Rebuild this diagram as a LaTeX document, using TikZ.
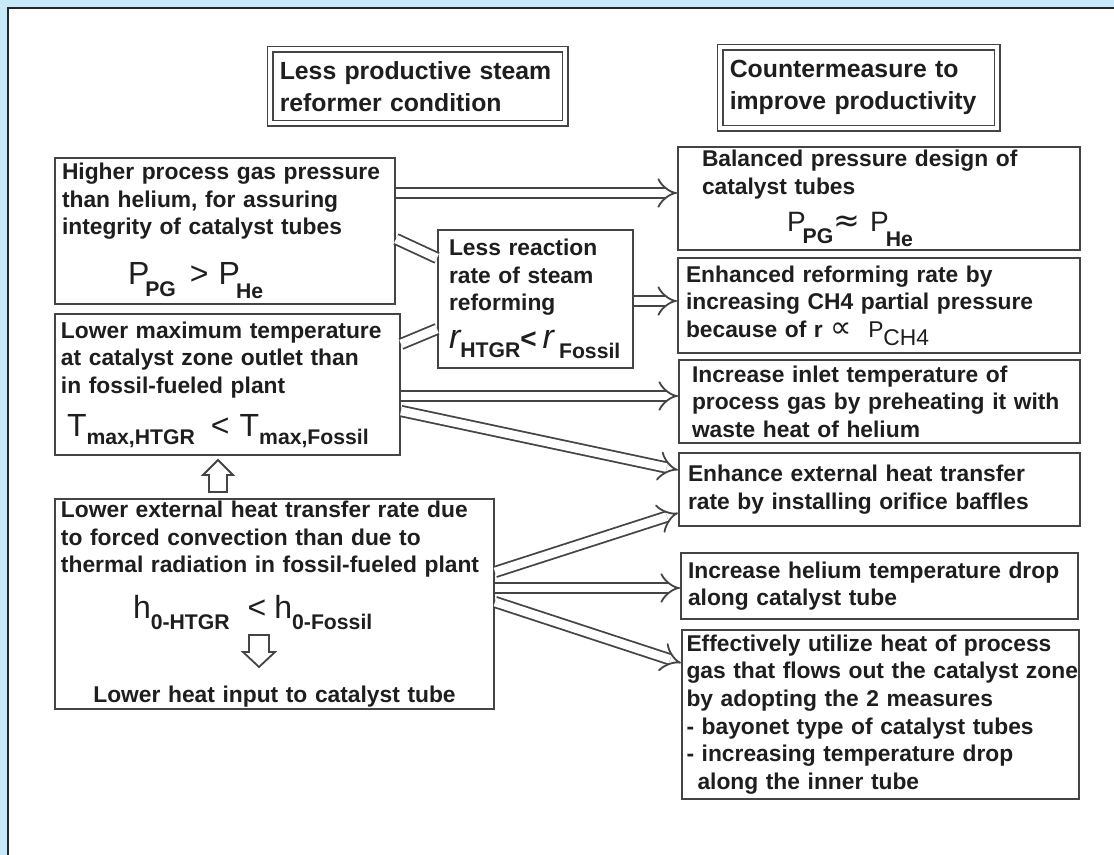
\documentclass[tikz,border=0pt]{standalone}
\usepackage{fontspec}
\setmainfont{Liberation Sans}
\newfontfamily\symfont{DejaVu Sans}
\usetikzlibrary{arrows.meta, calc}

\definecolor{skyback}{HTML}{C8EAF8}
\definecolor{boxline}{HTML}{444444}
\definecolor{inkgray}{HTML}{1E1E1E}

% big letter and lowered index of the formulas
\newcommand{\fbig}[2][16]{{\fontsize{#1}{#1}\selectfont\mdseries #2}}
\newcommand{\fsub}[2][5pt]{\raisebox{-#1}{\fontsize{10.6}{10.6}\selectfont #2}}

\begin{document}
\begin{tikzpicture}[x=0.5pt, y=-0.5pt,
        every node/.style={text=inkgray},
        box/.style={draw=boxline, line width=1pt, anchor=north west, align=left,
            inner ysep=0pt, font=\bfseries\fontsize{11.4}{13.8}\selectfont},
        headbox/.style={draw=boxline, line width=0.8pt, double=white, double distance=2pt,
            anchor=north west, align=left, inner xsep=4.7pt, inner ysep=0pt,
            font=\bfseries\fontsize{12.4}{16}\selectfont},
        dblline/.style={draw=boxline, line width=0.9pt, double=white, double distance=4.3pt},
        dblarrow/.style={dblline, -{Implies[scale=2]}},
        whitearrow/.style={draw=boxline, line width=0.9pt, fill=white, line join=miter}
    ]
        \useasboundingbox (0,0) rectangle (1114,855);
        \fill[skyback] (0,0) rectangle (1114,855);
        \fill[white] (8,8) rectangle (1114,855);
        \draw[line width=1.2pt, black!85] (1114,8) -- (8,8) -- (8,855);

        % Titles
        \node[headbox, text width=138pt, minimum height=36.9pt] (hdL) at (269.6,48.6)
            {Less productive steam\\reformer condition};
        \node[headbox, text width=129pt, minimum height=40.4pt] (hdR) at (719.6,46.6)
            {Countermeasure to\\improve productivity};

        % Left column
        \node[box, text width=163pt, inner xsep=3.5pt, minimum height=73pt] (pg) at (54,157)
            {Higher process gas pressure\\than helium, for assuring\\integrity of catalyst tubes\\[11pt]
             \hspace*{33pt}\fbig{P}\kern-2pt\fsub[6pt]{PG}\hspace{7pt}\fbig{>}\hspace{5pt}\fbig{P}\kern-2pt\fsub[7pt]{He}};
        \node[box, text width=166.5pt, inner xsep=3pt, minimum height=70.5pt] (tmax) at (54,313)
            {Lower maximum temperature\\at catalyst zone outlet than\\in fossil-fueled plant\\[7.7pt]
             \hspace*{3pt}\fbig{T}\fsub[4pt]{max,HTGR}\hspace{8pt}\fbig{<}\hspace{5pt}\fbig{T}\fsub[4pt]{max,Fossil}};
        \node[box, text width=213.5pt, inner xsep=3pt, minimum height=105pt] (h0) at (54,498)
            {Lower external heat transfer rate due\\to forced convection than due to\\thermal radiation in fossil-fueled plant\\[7.7pt]
             \hspace*{36pt}\fbig{h}\fsub[5.5pt]{0-HTGR}\hspace{9pt}\fbig{<}\hspace{4pt}\fbig{h}\fsub[5.5pt]{0-Fossil}\\[27pt]
             \makebox[\linewidth][c]{Lower heat input to catalyst tube}};
        \node[box, text width=86.5pt, inner xsep=5.5pt, minimum height=69pt] (rr) at (437,229)
            {Less reaction\\rate of steam\\reforming\\[5.2pt]
             \fbig[17]{\itshape r}\fsub[4.5pt]{HTGR}\fbig[14]{\bfseries <}\hspace{3pt}\fbig[17]{\itshape r}\hspace{2.5pt}\fsub[5pt]{Fossil}};

        % Right column
        \node[box, text width=177pt, inner xsep=12pt, minimum height=51.5pt] (bal) at (677,146)
            {Balanced pressure design of\\catalyst tubes\\[4.7pt]
             \hspace*{42.5pt}\fbig[14]{P}\kern-1.5pt\fsub[6pt]{PG}{\symfont\mdseries\fontsize{16}{16}\selectfont ≈}\hspace{5pt}\fbig[14]{P}\kern-1.5pt\fsub[7.5pt]{He}};
        \node[box, text width=193pt, inner xsep=4pt, minimum height=47.5pt] (enh) at (677,257)
            {Enhanced reforming rate by\\increasing CH4 partial pressure\\
             because of r\hspace{4pt}{\symfont\mdseries\fontsize{15}{15}\selectfont ∝}\hspace{8pt}{\mdseries P}\raisebox{-4pt}{\mdseries CH4}};
        \node[box, text width=187.5pt, inner xsep=6.5pt, minimum height=41.5pt] (inl) at (678,359)
            {Increase inlet temperature of\\process gas by preheating it with\\waste heat of helium};
        \node[box, text width=191.5pt, inner xsep=4.5pt, minimum height=36.5pt] (orf) at (678,452)
            {Enhance external heat transfer\\rate by installing orifice baffles};
        \node[box, text width=191.5pt, inner xsep=3.5pt, minimum height=33pt] (hed) at (680,552)
            {Increase helium temperature drop\\along catalyst tube};
        \node[box, text width=194pt, inner xsep=2.25pt, minimum height=84.5pt] (eff) at (681,629)
            {Effectively utilize heat of process\\\mbox{gas that flows out the catalyst zone}\\by adopting the 2 measures\\
             - bayonet type of catalyst tubes\\- increasing temperature drop\\\hspace*{5.5pt}along the inner tube};

        % Ends of the connectors
        \coordinate (s1) at ([yshift=-18pt]pg.north east);
        \coordinate (s2) at ([yshift=-41pt]pg.north east);
        \coordinate (s3) at ([yshift=-15.5pt]tmax.north east);
        \coordinate (s4) at ([yshift=-41.5pt]tmax.north east);
        \coordinate (s5) at ([yshift=-49pt]tmax.north east);
        \coordinate (s6) at ([yshift=-36pt]rr.north east);
        \coordinate (s7) at ([yshift=-37pt]h0.north east);
        \coordinate (s8) at ([yshift=-45pt]h0.north east);
        \coordinate (s9) at ([yshift=-52pt]h0.north east);
        \coordinate (t2) at ([yshift=-14.5pt]rr.north west);
        \coordinate (t3) at ([yshift=-50pt]rr.north west);
        \coordinate (t5) at ([yshift=-9pt]orf.north west);
        \coordinate (t7) at ([yshift=-30.5pt]orf.north west);
        \coordinate (t9) at ([yshift=-17pt]eff.north west);
        \coordinate (u1) at ([xshift=82pt]h0.north west);
        \coordinate (d1) at ($(h0.south west)+(205,-75)$);

        % Connectors
        \draw[dblarrow] (s1) -- (s1 -| bal.west);
        \draw[dblline] (s2) -- (t2);
        \draw[dblline] (s3) -- (t3);
        \draw[dblarrow] (s6) -- (s6 -| enh.west);
        \draw[dblarrow] (s4) -- (s4 -| inl.west);
        \draw[dblarrow] (s5) -- (t5);
        \draw[dblarrow] (s7) -- (t7);
        \draw[dblarrow] (s8) -- (s8 -| hed.west);
        \draw[dblarrow] (s9) -- (t9);

        % White block arrows
        \draw[whitearrow] ($(u1)+(-9,-6)$) -- ++(0,-17) -- ++(-6,0) -- ++(15,-15)
            -- ++(15,15) -- ++(-6,0) -- ++(0,17) -- cycle;
        \draw[whitearrow] ($(d1)+(-10,0)$) -- ++(0,17) -- ++(-6,0) -- ++(16,15)
            -- ++(16,-15) -- ++(-6,0) -- ++(0,-17) -- cycle;
    \end{tikzpicture}
\end{document}
